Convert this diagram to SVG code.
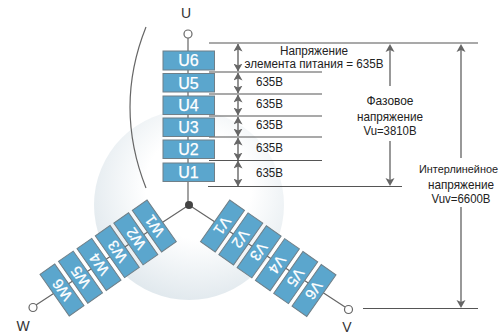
<svg xmlns="http://www.w3.org/2000/svg" width="501" height="335" viewBox="0 0 501 335">
<style>
.w{stroke:#666;stroke-width:1.2;fill:none}
.h{stroke:#555;stroke-width:1.2}
.a{stroke:#666;stroke-width:1.4;marker-start:url(#ah);marker-end:url(#ah)}
.b{fill:#5ba6cd;stroke:#6f7f88;stroke-width:1}
.bt{font-family:"Liberation Sans",Arial,sans-serif;font-size:16px;fill:#fff;text-anchor:middle;stroke:#fff;stroke-width:.25}
.rt{font-size:15px}
.t{font-family:"Liberation Sans Narrow","Liberation Sans",Arial,sans-serif;font-size:13px;fill:#222;text-anchor:middle}
.s{font-size:12px}
.x{font-size:11.500px}
.l{font-family:"Liberation Sans",Arial,sans-serif;font-size:14px;fill:#333;text-anchor:middle}
.r{fill:#fff;stroke:#666;stroke-width:1.2}
</style>
<defs>
<marker id="ah" viewBox="0 0 8 9" refX="7.500" refY="4.500" markerWidth="8" markerHeight="9" markerUnits="userSpaceOnUse" orient="auto-start-reverse"><path d="M0 0L8 4.500L0 9L2 4.500Z" fill="#666"/></marker>
<radialGradient id="g" cx="0.55" cy="0.4" r="0.62"><stop offset="0.45" stop-color="#fff"/><stop offset="1" stop-color="#e0e8ed"/></radialGradient>
</defs>
<circle id="bg" cx="189" cy="205" r="95" fill="url(#g)"/>
<g id="connectors">
<path class="w" d="M146 27Q114 107 146 188"/>
<path class="w" d="M188 38V205M189 205L36 305M189 205L345 307"/>
<path class="h" d="M209 43H478M209 72H322M209 94H322M209 116H322M209 137H322M209 160.500H322M208 186.500H402M363 308.500H478"/>
<path class="a" d="M238 44V71"/>
<path class="a" d="M238 73V93"/>
<path class="a" d="M238 95V115"/>
<path class="a" d="M238 117V136"/>
<path class="a" d="M238 138V160"/>
<path class="a" d="M238 161V186"/>
<path class="h" d="M390 50V86M390 141V180"/>
<path d="M390 44L394.500 52L390 50L385.500 52ZM390 186L394.500 178L390 180L385.500 178Z" fill="#666"/>
<path class="h" d="M461 50V158M461 207V302"/>
<path d="M461 44L465.500 52L461 50L456.500 52ZM461 308L465.500 300L461 302L456.500 300Z" fill="#666"/>
</g>
<g id="U6"><rect class="b" x="163" y="51" width="51.500" height="19"/><text class="bt" x="188.500" y="66">U6</text></g>
<g id="U5"><rect class="b" x="163" y="73.500" width="51.500" height="18.500"/><text class="bt" x="188.500" y="88.500">U5</text></g>
<g id="U4"><rect class="b" x="163" y="96" width="51.500" height="18.500"/><text class="bt" x="188.500" y="111">U4</text></g>
<g id="U3"><rect class="b" x="163" y="118" width="51.500" height="18.500"/><text class="bt" x="188.500" y="133">U3</text></g>
<g id="U2"><rect class="b" x="163" y="140" width="51.500" height="18.500"/><text class="bt" x="188.500" y="155">U2</text></g>
<g id="U1"><rect class="b" x="163" y="163" width="51.500" height="18.500"/><text class="bt" x="188.500" y="178">U1</text></g>
<g id="W1" transform="translate(154.300 226) rotate(-125)"><rect class="b" x="-25.500" y="-9" width="51" height="18"/><text class="bt rt" y="5.500">W1</text></g>
<g id="W2" transform="translate(135.800 238.800) rotate(-125)"><rect class="b" x="-25.500" y="-9" width="51" height="18"/><text class="bt rt" y="5.500">W2</text></g>
<g id="W3" transform="translate(117.300 251.600) rotate(-125)"><rect class="b" x="-25.500" y="-9" width="51" height="18"/><text class="bt rt" y="5.500">W3</text></g>
<g id="W4" transform="translate(99 264.400) rotate(-125)"><rect class="b" x="-25.500" y="-9" width="51" height="18"/><text class="bt rt" y="5.500">W4</text></g>
<g id="W5" transform="translate(80.500 277.200) rotate(-125)"><rect class="b" x="-25.500" y="-9" width="51" height="18"/><text class="bt rt" y="5.500">W5</text></g>
<g id="W6" transform="translate(62 290) rotate(-125)"><rect class="b" x="-25.500" y="-9" width="51" height="18"/><text class="bt rt" y="5.500">W6</text></g>
<g id="V1" transform="translate(222.500 226) rotate(125)"><rect class="b" x="-25.500" y="-9" width="51" height="18"/><text class="bt rt" y="5.500">V1</text></g>
<g id="V2" transform="translate(240.800 238.900) rotate(125)"><rect class="b" x="-25.500" y="-9" width="51" height="18"/><text class="bt rt" y="5.500">V2</text></g>
<g id="V3" transform="translate(259.100 251.800) rotate(125)"><rect class="b" x="-25.500" y="-9" width="51" height="18"/><text class="bt rt" y="5.500">V3</text></g>
<g id="V4" transform="translate(277.400 264.700) rotate(125)"><rect class="b" x="-25.500" y="-9" width="51" height="18"/><text class="bt rt" y="5.500">V4</text></g>
<g id="V5" transform="translate(295.700 277.600) rotate(125)"><rect class="b" x="-25.500" y="-9" width="51" height="18"/><text class="bt rt" y="5.500">V5</text></g>
<g id="V6" transform="translate(314 290.500) rotate(125)"><rect class="b" x="-25.500" y="-9" width="51" height="18"/><text class="bt rt" y="5.500">V6</text></g>
<g id="neutral"><circle cx="189" cy="205" r="4" fill="#444"/></g>
<g id="U"><circle class="r" cx="188" cy="34" r="4"/><text class="l" x="186" y="18">U</text></g>
<g id="W"><circle class="r" cx="33" cy="307.500" r="4"/><text class="l" x="23" y="331">W</text></g>
<g id="V"><circle class="r" cx="348.500" cy="309.500" r="4"/><text class="l" x="347" y="332">V</text></g>
<g id="labels">
<text class="t s" x="314" y="55" textLength="68" lengthAdjust="spacingAndGlyphs">Напряжение</text>
<text class="t s" x="314" y="68" textLength="139" lengthAdjust="spacingAndGlyphs">элемента питания = 635В</text>
<text class="t" x="269.500" y="86" textLength="27" lengthAdjust="spacingAndGlyphs">635В</text>
<text class="t" x="269.500" y="108" textLength="27" lengthAdjust="spacingAndGlyphs">635В</text>
<text class="t" x="269.500" y="129" textLength="27" lengthAdjust="spacingAndGlyphs">635В</text>
<text class="t" x="269.500" y="152" textLength="27" lengthAdjust="spacingAndGlyphs">635В</text>
<text class="t" x="269.500" y="177" textLength="27" lengthAdjust="spacingAndGlyphs">635В</text>
<text class="t" x="390" y="105" textLength="47" lengthAdjust="spacingAndGlyphs">Фазовое</text>
<text class="t" x="390" y="121" textLength="66" lengthAdjust="spacingAndGlyphs">напряжение</text>
<text class="t" x="390" y="135" textLength="53" lengthAdjust="spacingAndGlyphs">Vu=3810В</text>
<text class="t x" x="458.500" y="173" textLength="79" lengthAdjust="spacingAndGlyphs">Интерлинейное</text>
<text class="t" x="461" y="189" textLength="66" lengthAdjust="spacingAndGlyphs">напряжение</text>
<text class="t" x="461" y="203" textLength="59" lengthAdjust="spacingAndGlyphs">Vuv=6600В</text>
</g>
</svg>
